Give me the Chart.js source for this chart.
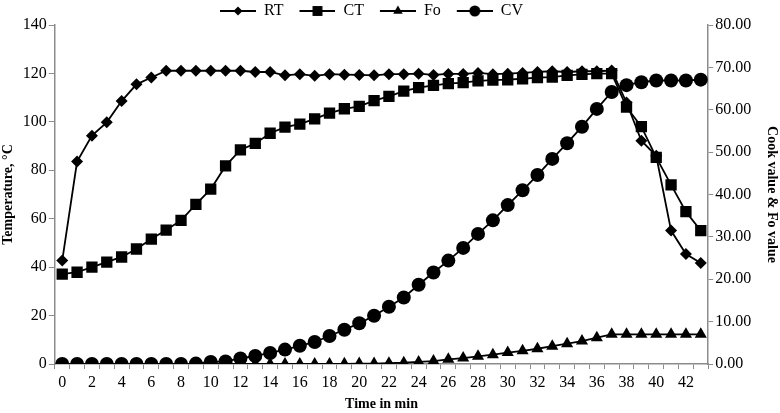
<!DOCTYPE html>
<html>
<head>
<meta charset="utf-8">
<script src="https://cdn.jsdelivr.net/npm/chart.js@4.4.1/dist/chart.umd.min.js"></script>
<style>
  html, body { margin: 0; padding: 0; background: #fff; }
  #wrap { width: 780px; height: 413px; }
</style>
</head>
<body>
<div id="wrap"><canvas id="myChart" width="780" height="413"></canvas></div>
<script>
// time in min
const minutes = [0,1,2,3,4,5,6,7,8,9,10,11,12,13,14,15,16,17,18,19,20,21,
  22,23,24,25,26,27,28,29,30,31,32,33,34,35,36,37,38,39,40,41,42,43];

// retort temperature, deg C
const rtValues = [42.7,83.6,94.3,99.8,108.6,115.5,118.3,121.1,121.1,121.1,121.1,121.1,121.1,120.6,
  120.6,119.2,119.7,119.0,119.7,119.5,119.4,119.2,119.7,119.7,119.9,119.4,119.8,119.8,
  120.2,119.7,119.9,120.2,120.6,120.9,120.6,120.9,120.9,121.2,108.0,92.2,86.0,55.1,45.4,41.7];

// core temperature, deg C
const ctValues = [37.1,37.9,40.0,42.1,44.2,47.5,51.6,55.3,59.3,65.9,72.2,81.8,88.4,91.1,
  95.3,97.8,99.1,101.2,103.6,105.4,106.4,108.8,110.5,112.7,114.1,115.1,115.8,116.2,
  116.9,117.2,117.4,117.8,118.3,118.5,119.2,119.6,119.9,119.9,106.1,98.0,85.3,74.0,62.9,55.1];

// Fo value
const foValues = [0,0,0,0,0,0,0,0,0,0,0,0,0,0,0,0,0,0,0,0.05,0.1,0.1,
  0.2,0.3,0.5,0.7,1.1,1.4,1.8,2.2,2.7,3.1,3.6,4.2,4.8,5.4,6.2,7.0,7.0,7.0,7.0,7.0,7.0,7.0];

// cook value
const cvValues = [0,0,0,0,0,0,0,0,0,0.1,0.5,0.6,1.3,1.9,2.6,3.4,4.3,5.2,6.6,8.1,9.6,11.4,
  13.5,15.7,18.7,21.6,24.4,27.4,30.7,33.9,37.5,41.0,44.6,48.4,52.1,56.0,60.2,64.2,
  65.8,66.5,66.9,66.9,66.9,67.1];

const leftTicks = [0,20,40,60,80,100,120,140];
const rightTicks = [0,10,20,30,40,50,60,70,80];

const grey = "#8c8c8c";
const serif = "'Liberation Serif', 'Times New Roman', serif";

// legend icon: blank space on the left, then a short line with the marker in the middle
const legendIcon = (style, r) => {
  const c = document.createElement("canvas");
  c.width = 49; c.height = 16;
  const g = c.getContext("2d");
  g.strokeStyle = "#000";
  g.lineWidth = 2;
  g.beginPath(); g.moveTo(13, 8); g.lineTo(49, 8); g.stroke();
  g.fillStyle = "#000";
  Chart.helpers.drawPoint(g, { pointStyle: style, radius: r, borderWidth: 0 }, 31, 8);
  return c;
};

// moves the legend a bit left and keeps it short
const legendTweak = {
  id: "legendTweak",
  beforeLayout(chart) {
    const lg = chart.legend;
    if (lg && !lg._tweaked) {
      const fit = lg.fit;
      lg.fit = function () { fit.call(this); this.height = 25; };
      lg._tweaked = true;
    }
  },
  afterLayout(chart) {
    chart.legend.left -= 25;
    chart.legend.right -= 25;
  },
};

let chartInstance;

const createChart = () => {
  const ctx = document.getElementById("myChart").getContext("2d");
  if (chartInstance) chartInstance.destroy();

  const ds = (label, values, style, r, axis) => ({
    label: label,
    data: values,
    yAxisID: axis,
    borderColor: "#000",
    backgroundColor: "#000",
    borderWidth: 1.8,
    pointStyle: style,
    pointRadius: r,
    pointBorderWidth: 0,
    pointBackgroundColor: "#000",
    tension: 0,
    fill: false,
  });

  const icons = [
    legendIcon("rectRot", 4.5),
    legendIcon("rect", 7),
    legendIcon("triangle", 5.5),
    legendIcon("circle", 5.5),
  ];

  const data = {
    labels: minutes,
    datasets: [
      ds("RT", rtValues, "rectRot", 6, "y"),
      ds("CT", ctValues, "rect", 8, "y"),
      ds("Fo", foValues, "triangle", 7, "y1"),
      ds("CV", cvValues, "circle", 7, "y1"),
    ],
  };

  const config = {
    type: "line",
    data: data,
    plugins: [legendTweak],
    options: {
      responsive: false,
      animation: false,
      layout: { padding: { left: 0, right: 0, top: 0, bottom: 0 } },
      plugins: {
        tooltip: { enabled: false },
        legend: {
          display: true,
          position: "top",
          labels: {
            usePointStyle: true,
            pointStyleWidth: 49,
            color: "#000",
            padding: 3,
            font: { family: serif, size: 16 },
            generateLabels: (chart) => {
              const items = Chart.defaults.plugins.legend.labels.generateLabels(chart);
              items.forEach((it, i) => { it.pointStyle = icons[i]; });
              return items;
            },
          },
        },
      },
      scales: {
        x: {
          type: "category",
          offset: true,
          title: {
            display: true,
            text: "Time in min",
            color: "#000",
            font: { family: serif, size: 14, weight: "bold" },
            padding: { top: 0, bottom: 0 },
          },
          ticks: {
            autoSkip: false,
            maxRotation: 0,
            color: "#000",
            font: { family: serif, size: 16 },
            padding: 4,
            callback: function (v, i) { return i % 2 === 0 ? this.getLabelForValue(v) : ""; },
          },
          grid: { display: true, offset: true, drawOnChartArea: false, drawTicks: true, tickLength: 5, color: grey },
          border: { display: true, color: grey, width: 1.5 },
        },
        y: {
          position: "left",
          min: 0,
          max: 140,
          afterBuildTicks: (axis) => { axis.ticks = leftTicks.map(v => ({ value: v })); },
          title: {
            display: true,
            text: "Temperature, °C",
            color: "#000",
            font: { family: serif, size: 14, weight: "bold" },
            padding: { top: 0, bottom: 4 },
          },
          ticks: { color: "#000", font: { family: serif, size: 16 }, padding: 2 },
          grid: { display: true, drawOnChartArea: false, drawTicks: true, tickLength: 6, color: grey },
          border: { display: true, color: grey, width: 1.5 },
        },
        y1: {
          position: "right",
          min: 0,
          max: 80,
          afterBuildTicks: (axis) => { axis.ticks = rightTicks.map(v => ({ value: v })); },
          title: {
            display: true,
            text: "Cook value & Fo value",
            color: "#000",
            font: { family: serif, size: 14, weight: "bold" },
            padding: { top: 0, bottom: 10 },
          },
          ticks: {
            color: "#000",
            font: { family: serif, size: 16 },
            padding: 2,
            callback: (v) => Number(v).toFixed(2),
          },
          grid: { display: true, drawOnChartArea: false, drawTicks: true, tickLength: 5, color: grey },
          border: { display: true, color: grey, width: 1.5 },
        },
      },
    },
  };

  chartInstance = new Chart(ctx, config);
};

document.addEventListener("DOMContentLoaded", createChart);
</script>
</body>
</html>
